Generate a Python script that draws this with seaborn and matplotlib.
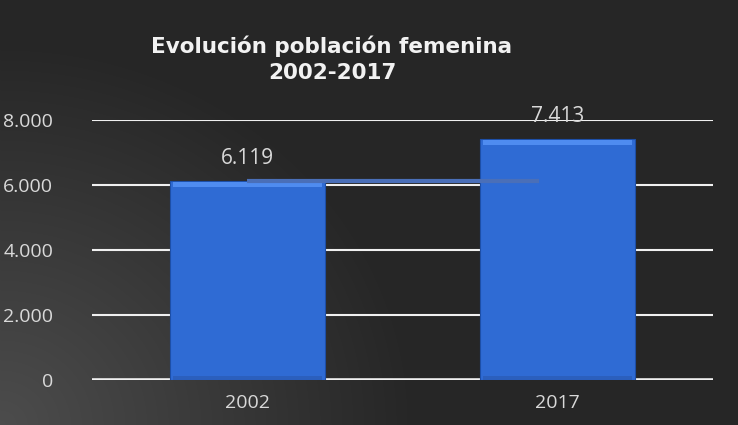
import numpy as np
import pandas as pd
import matplotlib
matplotlib.use("Agg")
import matplotlib.pyplot as plt
import seaborn as sns

years = ["2002", "2017"]
values = [6119, 7413]
value_labels = ["6.119", "7.413"]
trend_values = [6119, 6119]
yticks = [0, 2000, 4000, 6000, 8000]
ytick_labels = ["0", "2.000", "4.000", "6.000", "8.000"]
title = "Evolución población femenina\n2002-2017"

sns.set_theme(style="dark")
plt.rcParams['font.family'] = ['Open Sans', 'DejaVu Sans']

W, H = 738, 425
fig = plt.figure(figsize=(W / 100, H / 100), dpi=100)

# background gradient (lighter toward bottom-left)
bg = fig.add_axes([0, 0, 1, 1], zorder=0)
yy, xx = np.mgrid[0:H, 0:W]
d = np.sqrt((xx / W * 1.6) ** 2 + ((H - yy) / H) ** 2)
g = np.clip(1 - d / 0.9, 0, 1)
base = 0.15
img = base + 0.15 * g
bg.imshow(np.dstack([img, img, img]), extent=[0, 1, 0, 1], aspect="auto", origin="upper")
bg.axis("off")

ax = fig.add_axes([92 / W, 1 - 380 / H, (713 - 92) / W, 260 / H], zorder=1)
ax.patch.set_alpha(0)

df = pd.DataFrame({"year": years, "value": values})
sns.barplot(data=df, x="year", y="value", color="#2f6bd4", width=0.5,
            edgecolor="#1d4fa8", linewidth=0.8, ax=ax, zorder=3, saturation=1)

# bevel highlights on bar tops and darker base
for p in ax.patches:
    x0 = p.get_x(); w = p.get_width(); h = p.get_height()
    ax.fill_between([x0 + 0.01, x0 + w - 0.01], h - 180, h - 20, color="#4f8cf0", zorder=4, lw=0)
    ax.fill_between([x0 + 0.01, x0 + w - 0.01], 0, 120, color="#2a5cb8", zorder=4, lw=0, alpha=0.8)

ax.plot([0, 0.94], trend_values, color="#4a6fb8", lw=3, zorder=5, solid_capstyle="butt")

for i, (v, lab) in enumerate(zip(values, value_labels)):
    ax.text(i, v + 700, lab, ha="center", va="center", color="#d9d9d9", fontsize=15, zorder=6)

ax.set_ylim(0, 8000)
ax.set_xlim(-0.5, 1.5)
ax.set_yticks(yticks)
ax.set_yticklabels(ytick_labels)
ax.tick_params(axis="y", colors="#d9d9d9", labelsize=14, length=0, pad=28)
ax.tick_params(axis="x", colors="#d9d9d9", labelsize=14, length=0, pad=10)
for y in yticks:
    ax.axhline(y, color="#f0f0f0", lw=2.6 if y == 0 else 1.5, zorder=2)
ax.grid(False)
for s in ax.spines.values():
    s.set_visible(False)
ax.set_xlabel("")
ax.set_ylabel("")

fig.text(332 / W, 1 - 59 / H, title, ha="center", va="center", color="#f2f2f2",
         fontsize=15.5, fontweight="bold", linespacing=1.35, family=["DejaVu Sans"])

fig.savefig("out.png", dpi=100)
